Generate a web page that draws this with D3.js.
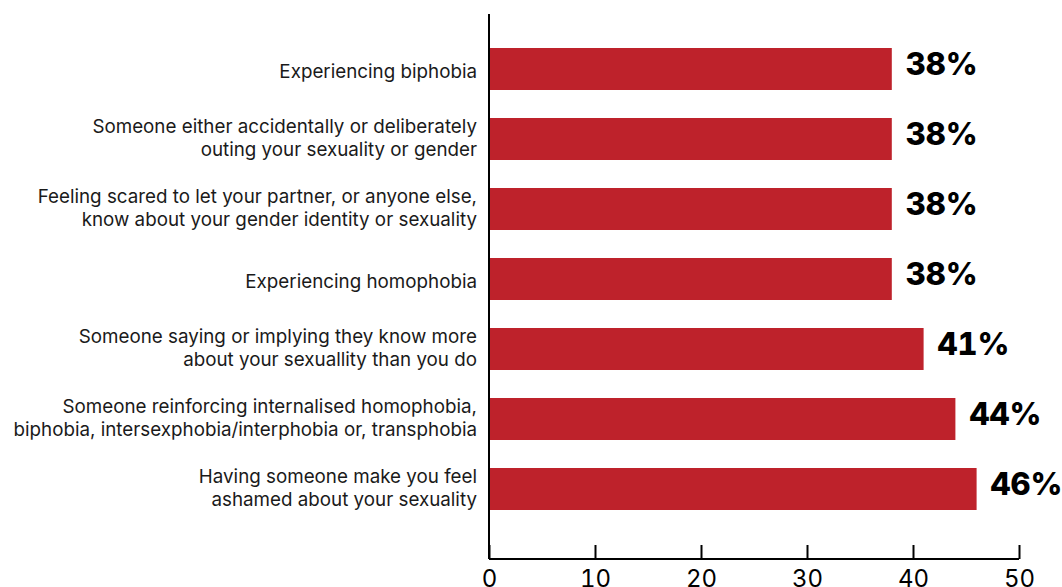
<!DOCTYPE html>
<html>
<head>
<meta charset="utf-8">
<script src="https://cdn.jsdelivr.net/npm/d3@7"></script>
<style>
  html, body { margin: 0; padding: 0; background: #fff; }
  svg { display: block; font-family: Inter, "Noto Sans", sans-serif; }
  .num { font-variant-numeric: tabular-nums; font-feature-settings: "tnum" 1; }
</style>
</head>
<body>
<svg id="chart" width="1062" height="587"></svg>
<script>
// Survey items (each entry split into its display lines) and share of respondents (%)
const categories = [
  ["Experiencing biphobia"],
  ["Someone either accidentally or deliberately", "outing your sexuality or gender"],
  ["Feeling scared to let your partner, or anyone else,", "know about your gender identity or sexuality"],
  ["Experiencing homophobia"],
  ["Someone saying or implying they know more", "about your sexuallity than you do"],
  ["Someone reinforcing internalised homophobia,", "biphobia, intersexphobia/interphobia or, transphobia"],
  ["Having someone make you feel", "ashamed about your sexuality"]
];
const values = [38, 38, 38, 38, 41, 44, 46];
const xTicks = [0, 10, 20, 30, 40, 50];

const svg = d3.select("#chart");
const x0 = 489, x1 = 1019, axisY = 559, axisTop = 14;

const x = d3.scaleLinear().domain([0, 50]).range([x0, x1]);
const y = d3.scaleBand()
  .domain(d3.range(categories.length))
  .range([34, 524])
  .paddingInner(0.4)
  .paddingOuter(0.2);

// Bars
svg.append("g").selectAll("rect")
  .data(values)
  .join("rect")
  .attr("x", x(0))
  .attr("y", (d, i) => y(i))
  .attr("width", d => x(d) - x(0))
  .attr("height", y.bandwidth())
  .attr("fill", "#be222b");

// Value labels
svg.append("g").selectAll("text")
  .data(values)
  .join("text")
  .attr("class", "num")
  .attr("x", d => x(d) + 14)
  .attr("y", (d, i) => y(i) + y.bandwidth() / 2 + 6)
  .attr("font-size", 31)
  .attr("font-weight", 800)
  .attr("fill", "#000")
  .text(d => d + "%");

// Category labels (right-aligned, multi-line)
const lineH = 23;
const labels = svg.append("g").selectAll("text")
  .data(categories)
  .join("text")
  .attr("text-anchor", "end")
  .attr("font-size", 18.8)
  .attr("fill", "#1a1a1a");
labels.each(function (lines, i) {
  const cy = y(i) + y.bandwidth() / 2;
  const start = cy + 9 - (lines.length - 1) * 15;
  d3.select(this).selectAll("tspan")
    .data(lines)
    .join("tspan")
    .attr("x", 477)
    .attr("y", (d, j) => start + j * lineH)
    .text(d => d);
});

// Vertical baseline
svg.append("line")
  .attr("x1", x0).attr("x2", x0)
  .attr("y1", axisTop).attr("y2", axisY)
  .attr("stroke", "#000").attr("stroke-width", 2);

// Bottom axis with inward ticks
const xAxis = d3.axisBottom(x).tickValues(xTicks).tickSize(0);
const gx = svg.append("g")
  .attr("transform", `translate(0,${axisY})`)
  .call(xAxis);
gx.select(".domain").attr("stroke", "#000").attr("stroke-width", 2)
  .attr("d", `M${x0},0H${x1}`);
gx.selectAll(".tick line").remove();
gx.selectAll(".tick").append("line")
  .attr("y1", 0).attr("y2", -14)
  .attr("stroke", "#000").attr("stroke-width", 2);
gx.selectAll(".tick text")
  .attr("class", "num")
  .attr("font-size", 24)
  .attr("font-family", "Inter, 'Noto Sans', sans-serif")
  .attr("fill", "#000")
  .attr("y", 28)
  .attr("dy", null);
</script>
</body>
</html>
